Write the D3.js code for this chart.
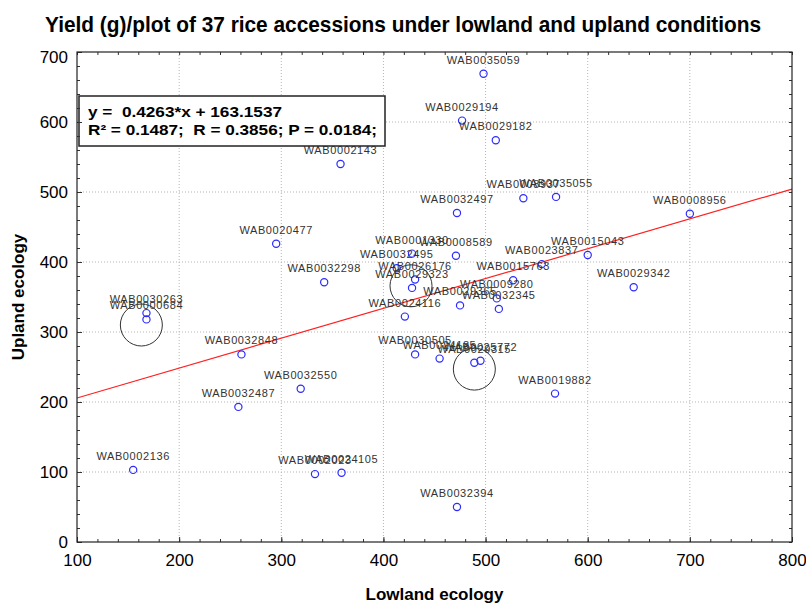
<!DOCTYPE html>
<html>
<head>
<meta charset="utf-8">
<script src="https://cdn.jsdelivr.net/npm/d3@7"></script>
<style>
  body { margin: 0; background: #fff; }
  text { font-family: Arial, "Liberation Sans", sans-serif; }
</style>
</head>
<body>
<svg id="chart"></svg>
<script>
var width = 806;
var height = 603;

var margin = {
  top: 52,
  left: 77,
  right: 14,
  bottom: 61
};

// accessions, lowland yield (x), upland yield (y)
var names = ["WAB0035059", "WAB0029194", "WAB0029182", "WAB0002143", "WAB0008937",
             "WAB0035055", "WAB0032497", "WAB0008956", "WAB0020477", "WAB0001330",
             "WAB0008589", "WAB0015043", "WAB0032495", "WAB0023837", "WAB0026176",
             "WAB0029323", "WAB0015763", "WAB0032298", "WAB0029342", "WAB0009280",
             "WAB0029365", "WAB0032345", "WAB0024116", "WAB0030263", "WAB0000684",
             "WAB0032848", "WAB0030505", "WAB0024185", "WAB0029315", "WAB0025772",
             "WAB0032550", "WAB0019882", "WAB0032487", "WAB0002136", "WAB0002023",
             "WAB0024105", "WAB0032394"];
var lowland = [498, 477, 510, 358, 537, 569, 472, 700, 295, 428,
               471, 600, 413, 555, 431, 428, 527, 342, 645, 511,
               475, 513, 421, 168, 168, 261, 431, 455, 489, 495,
               319, 568, 258, 155, 333, 359, 472];
var upland = [669, 602, 574, 540, 491, 493, 470, 469, 426, 412,
              409, 410, 391, 397, 375, 363, 374, 371, 364, 348,
              338, 333, 322, 327, 318, 268, 268, 262, 256, 259,
              219, 212, 193, 103, 97, 99, 50];

var xTicks = [100, 200, 300, 400, 500, 600, 700, 800];
var yTicks = [0, 100, 200, 300, 400, 500, 600, 700];

// fitted line
var slope = 0.4263;
var intercept = 163.1537;
var eqLines = ["y =  0.4263*x + 163.1537", "R\u00b2 = 0.1487;  R = 0.3856; P = 0.0184;"];

// circled groups
var ringX = [163, 427, 489];
var ringY = [310, 366, 247];

var svg = d3.select("#chart").attr("width", width).attr("height", height);

var xScale = d3.scaleLinear()
.domain([100, 800])
.range([margin.left, width - margin.right]);

var yScale = d3.scaleLinear()
.domain([0, 700])
.range([height - margin.bottom, margin.top]);

var x0 = margin.left, x1 = width - margin.right;
var y0 = height - margin.bottom, y1 = margin.top;

// grid
svg.append("g").selectAll("line")
.data(xTicks.slice(1, -1))
.enter().append("line")
.attr("x1", function(d) {return xScale(d);})
.attr("x2", function(d) {return xScale(d);})
.attr("y1", y1).attr("y2", y0)
.attr("stroke", "#b5b5b5").attr("stroke-dasharray", "1,2");

svg.append("g").selectAll("line")
.data(yTicks.slice(1, -1))
.enter().append("line")
.attr("y1", function(d) {return yScale(d);})
.attr("y2", function(d) {return yScale(d);})
.attr("x1", x0).attr("x2", x1)
.attr("stroke", "#b5b5b5").attr("stroke-dasharray", "1,2");

// regression line
svg.append("line")
.attr("x1", xScale(100)).attr("y1", yScale(slope * 100 + intercept))
.attr("x2", xScale(800)).attr("y2", yScale(slope * 800 + intercept))
.attr("stroke", "#ff2020").attr("stroke-width", 1.2);

// points
var idx = d3.range(names.length);

svg.append("g").selectAll("circle")
.data(idx)
.enter().append("circle")
.attr("cx", function(i) {return xScale(lowland[i]);})
.attr("cy", function(i) {return yScale(upland[i]);})
.attr("r", 3.6)
.attr("fill", "none")
.attr("stroke", "#2b2bff")
.attr("stroke-width", 1.2);

svg.append("g").selectAll("text")
.data(idx)
.enter().append("text")
.attr("x", function(i) {return xScale(lowland[i]);})
.attr("y", function(i) {return yScale(upland[i]) - 10;})
.attr("text-anchor", "middle")
.attr("font-size", 11)
.attr("letter-spacing", 0.6)
.attr("fill", "#333")
.text(function(i) {return names[i];});

svg.append("g").selectAll("circle")
.data(d3.range(ringX.length))
.enter().append("circle")
.attr("cx", function(i) {return xScale(ringX[i]);})
.attr("cy", function(i) {return yScale(ringY[i]);})
.attr("r", 21)
.attr("fill", "none")
.attr("stroke", "#333")
.attr("stroke-width", 1);

// equation box
svg.append("rect")
.attr("x", 79).attr("y", 96)
.attr("width", 306).attr("height", 50)
.attr("fill", "#fff")
.attr("stroke", "#222").attr("stroke-width", 1.5);

svg.append("text")
.attr("x", 88).attr("y", 117)
.attr("font-size", 15).attr("font-weight", "bold")
.style("white-space", "pre")
.attr("textLength", 194).attr("lengthAdjust", "spacingAndGlyphs")
.text(eqLines[0]);

svg.append("text")
.attr("x", 88).attr("y", 135)
.attr("font-size", 15).attr("font-weight", "bold")
.style("white-space", "pre")
.attr("textLength", 289).attr("lengthAdjust", "spacingAndGlyphs")
.text(eqLines[1]);

// axes: ticks point inward on all four sides
var xMinor = d3.range(100, 801, 20);
var yMinor = d3.range(0, 701, 20);

svg.append("g")
.attr("transform", `translate(0, ${y0})`)
.call(d3.axisBottom(xScale).tickValues(xMinor).tickSizeInner(-3).tickSizeOuter(0).tickFormat(""));
svg.append("g")
.attr("transform", `translate(0, ${y1})`)
.call(d3.axisTop(xScale).tickValues(xMinor).tickSizeInner(-3).tickSizeOuter(0).tickFormat(""));
svg.append("g")
.attr("transform", `translate(${x0},0)`)
.call(d3.axisLeft(yScale).tickValues(yMinor).tickSizeInner(-3).tickSizeOuter(0).tickFormat(""));
svg.append("g")
.attr("transform", `translate(${x1},0)`)
.call(d3.axisRight(yScale).tickValues(yMinor).tickSizeInner(-3).tickSizeOuter(0).tickFormat(""));

var xAxis = svg.append("g")
.attr("transform", `translate(0, ${y0})`)
.call(d3.axisBottom(xScale).tickValues(xTicks).tickSizeInner(-5).tickSizeOuter(0).tickPadding(12));

var yAxis = svg.append("g")
.attr("transform", `translate(${x0},0)`)
.call(d3.axisLeft(yScale).tickValues(yTicks).tickSizeInner(-5).tickSizeOuter(0).tickPadding(9));

svg.selectAll(".domain").remove();
svg.selectAll(".tick line").attr("stroke", "#333");

xAxis.selectAll("text").attr("font-size", 17).attr("fill", "#000")
.attr("font-family", "Arial, 'Liberation Sans', sans-serif");
yAxis.selectAll("text").attr("font-size", 17).attr("fill", "#000")
.attr("font-family", "Arial, 'Liberation Sans', sans-serif");
// top label sits a little lower, as in the original
yAxis.selectAll(".tick text").filter(function(d) {return d == 700;}).attr("dy", "0.6em");

// frame
svg.append("rect")
.attr("x", x0).attr("y", y1)
.attr("width", x1 - x0).attr("height", y0 - y1)
.attr("fill", "none").attr("stroke", "#222").attr("stroke-width", 1.2);

// titles
svg.append("text")
.attr("x", 403).attr("y", 32)
.attr("text-anchor", "middle")
.attr("font-size", 22).attr("font-weight", "bold")
.attr("textLength", 716).attr("lengthAdjust", "spacingAndGlyphs")
.text("Yield (g)/plot of 37 rice accessions under lowland and upland conditions");

svg.append("text")
.attr("x", (x0 + x1) / 2).attr("y", 600)
.attr("text-anchor", "middle")
.attr("font-size", 17).attr("font-weight", "bold")
.text("Lowland ecology");

svg.append("text")
.attr("transform", `translate(24, ${(y0 + y1) / 2}) rotate(-90)`)
.attr("text-anchor", "middle")
.attr("font-size", 17).attr("font-weight", "bold")
.text("Upland ecology");
</script>
</body>
</html>
